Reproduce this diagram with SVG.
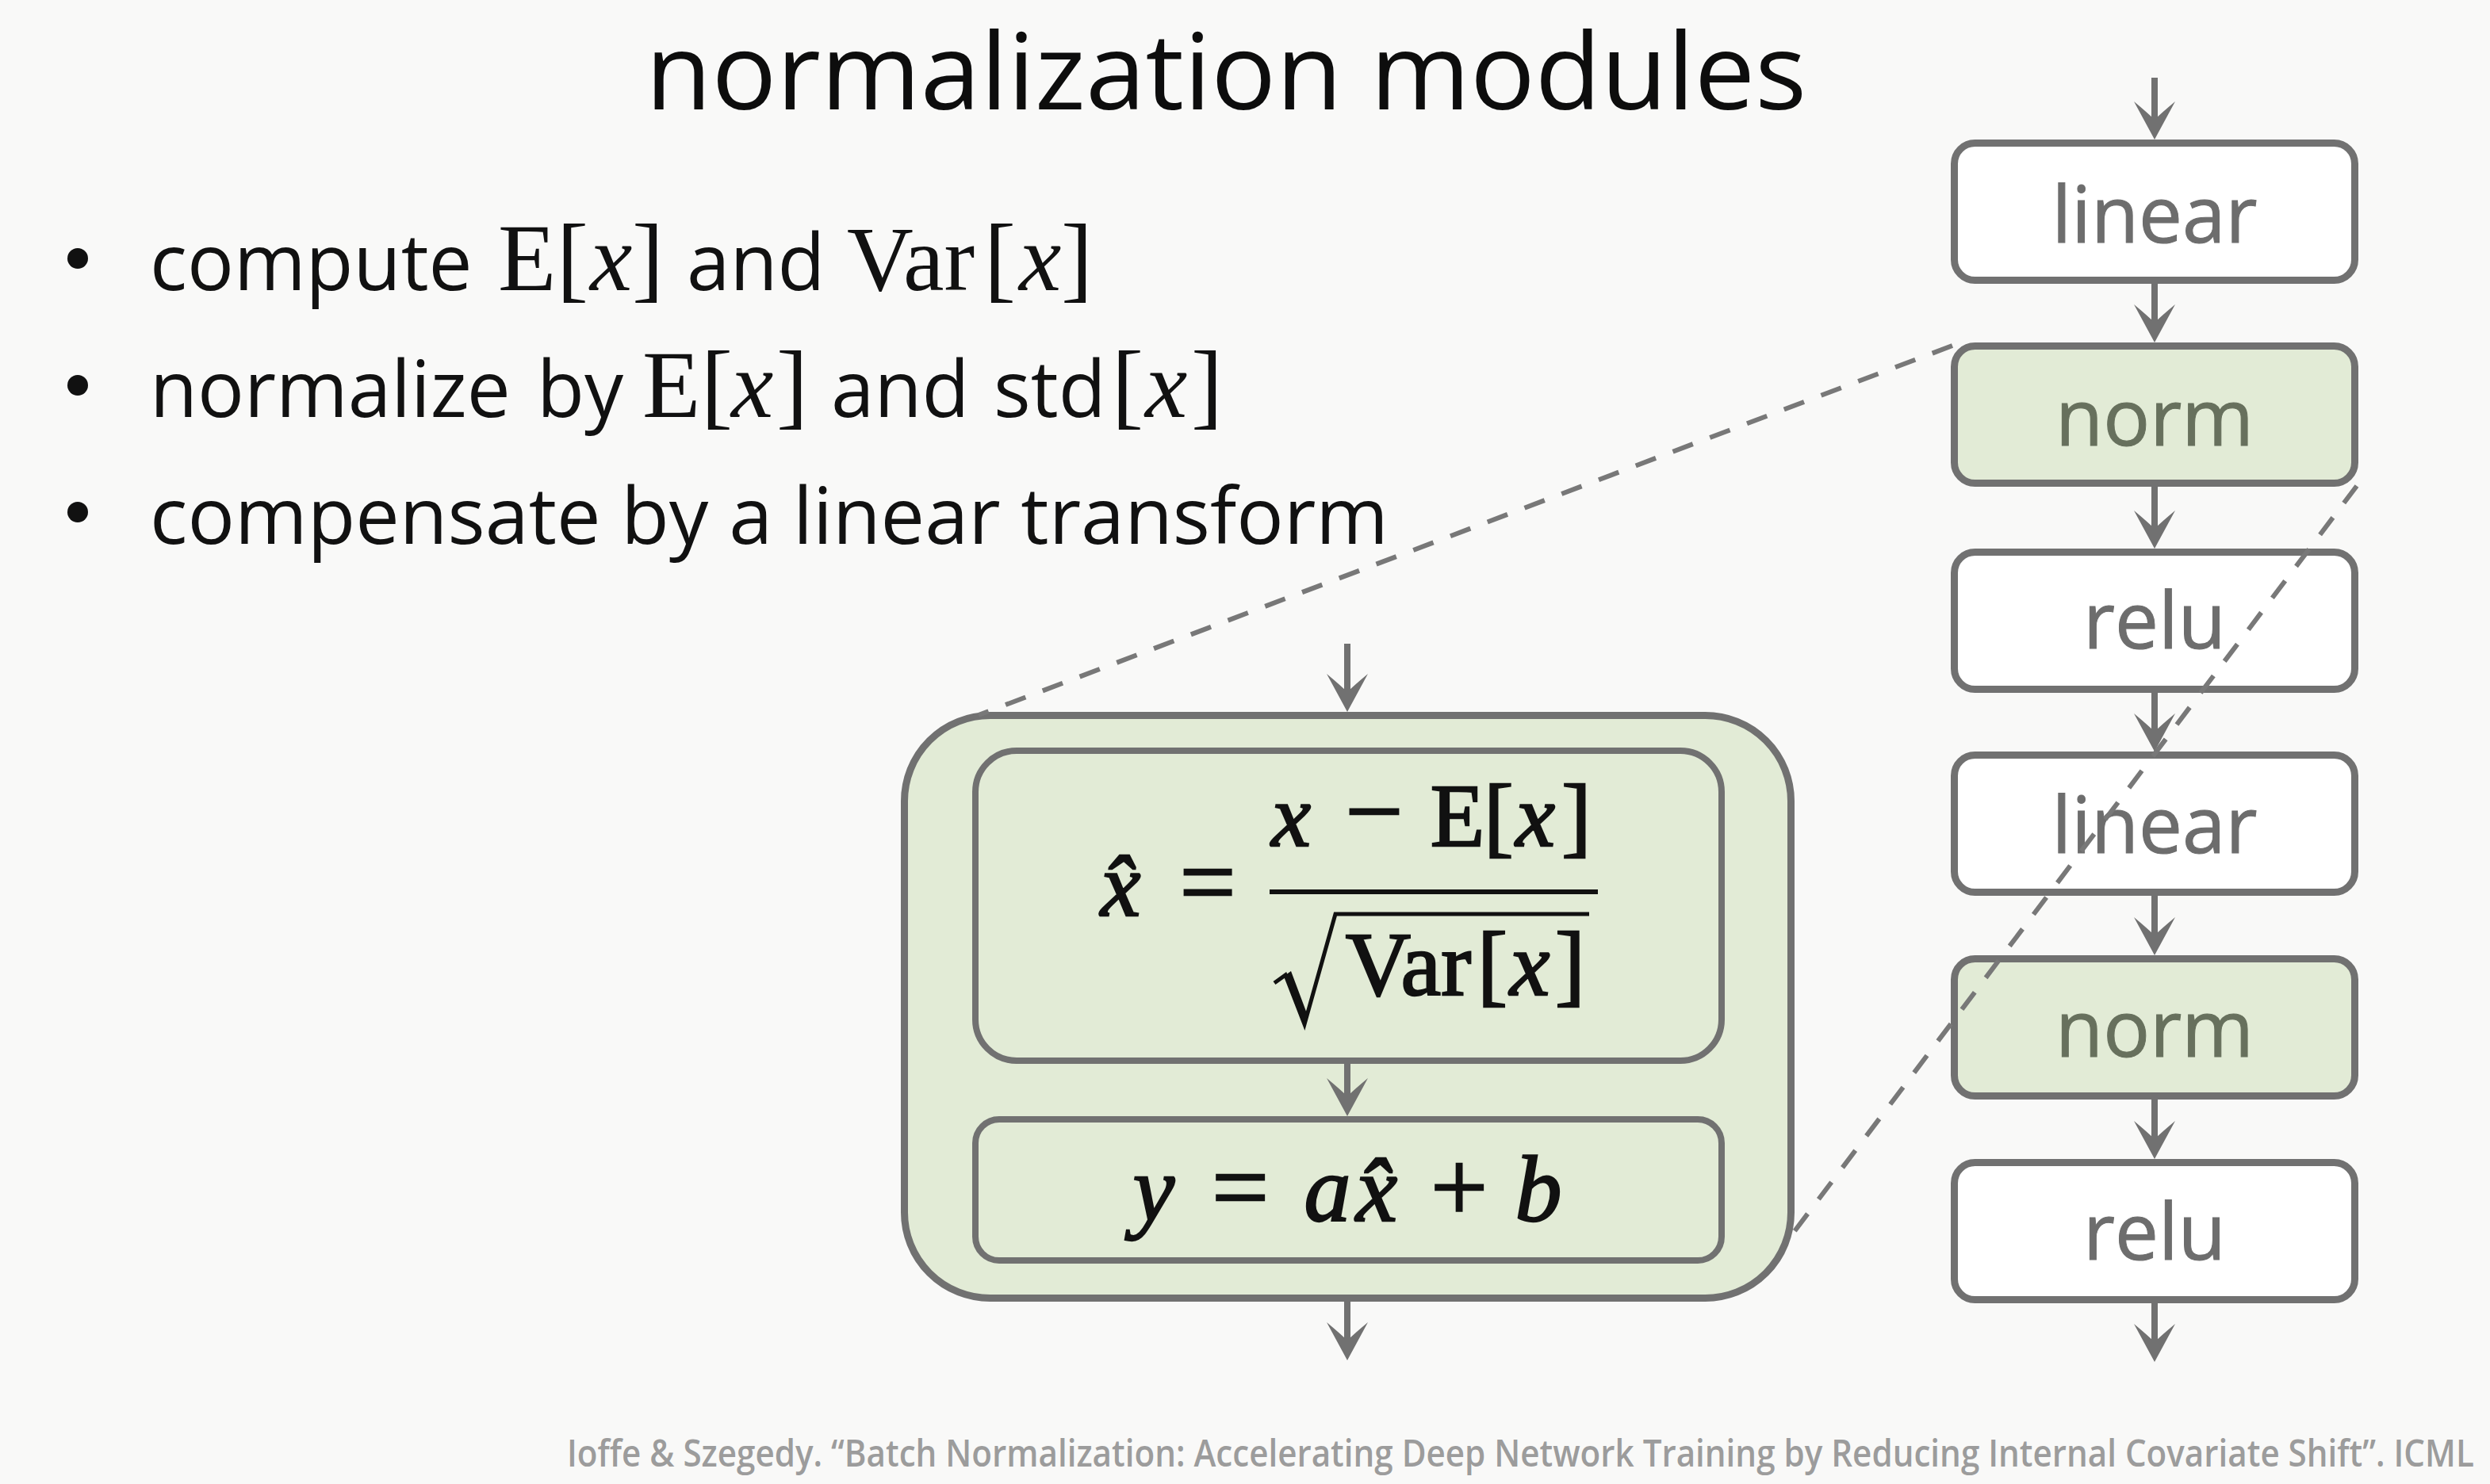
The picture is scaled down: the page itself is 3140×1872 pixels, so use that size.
<svg xmlns="http://www.w3.org/2000/svg" width="3140" height="1872" viewBox="0 0 3140 1872">
<defs>
<style>
.sans{font-family:"Open Sans","Liberation Sans",sans-serif}
.math{font-family:"Liberation Serif","DejaVu Serif",serif}
.it{font-style:italic}
.wbox{fill:#ffffff;stroke:#717171;stroke-width:9}
.gbox{fill:#e2ebd6;stroke:#717171;stroke-width:9}
.ibox{fill:#e2ebd6;stroke:#717171;stroke-width:8}
.lbl{font-family:"Open Sans","Liberation Sans",sans-serif;font-size:98px;fill:#6d6d6d;text-anchor:middle;stroke:#6d6d6d;stroke-width:1}
.glbl{fill:#67705d;stroke:#67705d}
.arrow{stroke:#717171;stroke-width:8;fill:none;marker-end:url(#ah)}
.dash{stroke:#787878;stroke-width:6;fill:none;stroke-dasharray:27 23}
.eq{font-family:"Liberation Serif","DejaVu Serif",serif;fill:#111;stroke:#111;stroke-width:2.4;text-anchor:middle}
</style>
<marker id="ah" markerUnits="userSpaceOnUse" markerWidth="60" markerHeight="60" viewBox="-30 -30 60 60" refX="0" refY="0" orient="auto">
<path d="M23,0 L-25,-26 Q-10,-8 -2,0 Q-10,8 -25,26 Z" fill="#717171"/>
</marker>
</defs>
<rect x="0" y="0" width="3140" height="1872" fill="#f9f9f8"/>

<text class="sans" x="814" y="138" font-size="134" fill="#0d0d0d" textLength="1464" lengthAdjust="spacingAndGlyphs">normalization modules</text>

<g id="bullets" fill="#111">
<circle cx="98" cy="326" r="13"/>
<circle cx="98" cy="486" r="13"/>
<circle cx="98" cy="646" r="13"/>
<text class="sans" y="366" font-size="98"><tspan x="189">compute</tspan><tspan class="math" font-size="120" x="628">E</tspan><tspan class="math" font-size="120" x="702">[</tspan><tspan class="math it" font-size="120" x="744">x</tspan><tspan class="math" font-size="120" x="797">]</tspan><tspan x="866">and</tspan><tspan class="math" font-size="116" x="1068">Var</tspan><tspan class="math" font-size="120" x="1241">[</tspan><tspan class="math it" font-size="120" x="1285">x</tspan><tspan class="math" font-size="120" x="1338">]</tspan></text>
<text class="sans" y="526" font-size="98"><tspan x="189">normalize</tspan><tspan x="677">by</tspan><tspan class="math" font-size="120" x="810">E</tspan><tspan class="math" font-size="120" x="884">[</tspan><tspan class="math it" font-size="120" x="922">x</tspan><tspan class="math" font-size="120" x="979">]</tspan><tspan x="1048">and</tspan><tspan x="1253">std</tspan><tspan class="math" font-size="120" x="1402">[</tspan><tspan class="math it" font-size="120" x="1444">x</tspan><tspan class="math" font-size="120" x="1502">]</tspan></text>
<text class="sans" x="189" y="686" font-size="98" textLength="1562" lengthAdjust="spacingAndGlyphs">compensate by a linear transform</text>
</g>

<g id="node-linear-1"><rect class="wbox" x="2464.5" y="180.5" width="505" height="173" rx="26"/><text class="lbl" x="2717" y="306">linear</text></g>
<g id="node-norm-1"><rect class="gbox" x="2464.5" y="436.5" width="505" height="173" rx="26"/><text class="lbl glbl" x="2717" y="562">norm</text></g>
<g id="node-relu-1"><rect class="wbox" x="2464.5" y="696.5" width="505" height="173" rx="26"/><text class="lbl" x="2717" y="818">relu</text></g>
<g id="node-linear-2"><rect class="wbox" x="2464.5" y="952.5" width="505" height="173" rx="26"/><text class="lbl" x="2717" y="1076">linear</text></g>
<g id="node-norm-2"><rect class="gbox" x="2464.5" y="1209.5" width="505" height="173" rx="26"/><text class="lbl glbl" x="2717" y="1333">norm</text></g>
<g id="node-relu-2"><rect class="wbox" x="2464.5" y="1466.5" width="505" height="173" rx="26"/><text class="lbl" x="2717" y="1589">relu</text></g>

<g id="node-norm-module">
<rect class="gbox" x="1140.5" y="902.5" width="1118" height="735" rx="108"/>
</g>
<g id="node-normalize">
<rect class="ibox" x="1230" y="947" width="941" height="391" rx="52"/>
<text class="eq" y="1155" font-size="114"><tspan class="it" x="1413">x̂</tspan><tspan x="1523" font-size="126">=</tspan></text>
<text class="eq" y="1067" font-size="112"><tspan class="it" x="1628">x</tspan><tspan x="1733" font-size="130">−</tspan><tspan x="1838">E</tspan><tspan x="1890">[</tspan><tspan class="it" x="1936">x</tspan><tspan x="1988">]</tspan></text>
<rect x="1601" y="1122" width="414" height="6" fill="#111"/>
<path d="M1607,1240 L1621,1230 L1645,1292 L1684,1153 L2004,1153" fill="none" stroke="#111" stroke-width="5" stroke-linejoin="miter"/>
<path d="M1621,1230 L1628,1225 L1649,1281 L1645,1292 Z" fill="#111"/>
<text class="eq" y="1255" font-size="114"><tspan x="1776">Var</tspan><tspan x="1882">[</tspan><tspan class="it" x="1929">x</tspan><tspan x="1980">]</tspan></text>
</g>
<g id="node-affine">
<rect class="ibox" x="1230" y="1412" width="941" height="178" rx="30"/>
<text class="eq" y="1540" font-size="118"><tspan class="it" x="1455">y</tspan><tspan x="1564" font-size="128">=</tspan><tspan class="it" x="1674">a</tspan><tspan class="it" x="1736">x̂</tspan><tspan x="1840" font-size="128">+</tspan><tspan class="it" x="1940">b</tspan></text>
</g>

<g id="connectors">
<line class="arrow" x1="2717" y1="98" x2="2717" y2="153"/>
<line class="arrow" x1="2717" y1="358" x2="2717" y2="409"/>
<line class="arrow" x1="2717" y1="614" x2="2717" y2="669"/>
<line class="arrow" x1="2717" y1="874" x2="2717" y2="925"/>
<line class="arrow" x1="2717" y1="1130" x2="2717" y2="1182"/>
<line class="arrow" x1="2717" y1="1387" x2="2717" y2="1439"/>
<line class="arrow" x1="2717" y1="1644" x2="2717" y2="1695"/>
<line class="arrow" x1="1699" y1="812" x2="1699" y2="875"/>
<line class="arrow" x1="1699" y1="1342" x2="1699" y2="1385"/>
<line class="arrow" x1="1699" y1="1642" x2="1699" y2="1693"/>
<line class="dash" x1="2462" y1="436" x2="1234" y2="902"/>
<line class="dash" x1="2972" y1="613" x2="2260" y2="1557"/>
</g>

<text class="sans" transform="scale(0.8 1)" x="893.75" y="1850" font-size="47" font-weight="600" fill="#9c9c9c" textLength="3006" lengthAdjust="spacingAndGlyphs">Ioffe &amp; Szegedy. “Batch Normalization: Accelerating Deep Network Training by Reducing Internal Covariate Shift”. ICML</text>
</svg>
